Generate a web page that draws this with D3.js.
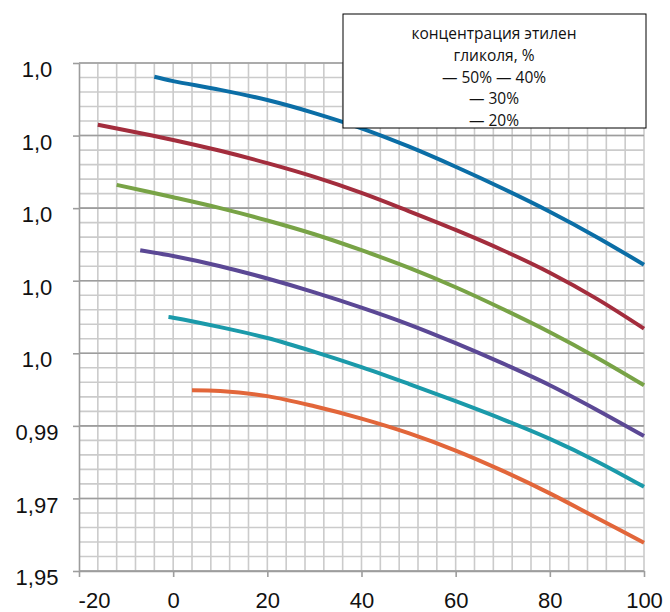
<!DOCTYPE html>
<meta charset="utf-8">
<script src="https://d3js.org/d3.v7.min.js"></script>
<style>
  body { margin: 0; background: #fff; }
  .tick text { font-family: "Liberation Sans", Arial, sans-serif; font-size: 22px; fill: #111; }
</style>
<body>
<div id="chart"></div>
<script>

// temperature, °C
var xTicks = [-20, 0, 20, 40, 60, 80, 100];
var yTicks = [0.95, 0.96, 0.97, 0.98, 0.99, 1.00, 1.01, 1.02];
var yLabels = ["1,95", "1,97", "0,99", "1,0", "1,0", "1,0", "1,0", "1,0"];

var legendLines = ["концентрация этилен", "гликоля, %", "— 50% — 40%", "— 30%", "— 20%"];

var xBlue   = [-4, 0, 10, 20, 30, 40, 50, 60, 70, 80, 90, 100];
var yBlue   = [1.0181, 1.0175, 1.0163, 1.0149, 1.0131, 1.0110, 1.0085, 1.0057, 1.0027, 0.9995, 0.9960, 0.9922];
var xRed    = [-16, 0, 10, 20, 30, 40, 50, 60, 70, 80, 90, 100];
var yRed    = [1.0115, 1.0094, 1.0079, 1.0062, 1.0043, 1.0021, 0.9996, 0.9970, 0.9942, 0.9911, 0.9875, 0.9834];
var xGreen  = [-12, 0, 10, 20, 30, 40, 50, 60, 70, 80, 90, 100];
var yGreen  = [1.0032, 1.0015, 1.0000, 0.9983, 0.9964, 0.9942, 0.9918, 0.9891, 0.9861, 0.9829, 0.9794, 0.9756];
var xPurple = [-7, 0, 10, 20, 30, 40, 50, 60, 70, 80, 90, 100];
var yPurple = [0.9942, 0.9934, 0.9920, 0.9903, 0.9884, 0.9863, 0.9840, 0.9814, 0.9786, 0.9756, 0.9722, 0.9686];
var xTeal   = [-1, 0, 10, 20, 30, 40, 50, 60, 70, 80, 90, 100];
var yTeal   = [0.9850, 0.9849, 0.9836, 0.9821, 0.9802, 0.9781, 0.9758, 0.9734, 0.9709, 0.9682, 0.9651, 0.9616];
var xOrange = [4, 10, 20, 30, 40, 50, 60, 70, 80, 90, 100];
var yOrange = [0.9749, 0.9748, 0.9741, 0.9727, 0.9710, 0.9690, 0.9666, 0.9638, 0.9607, 0.9573, 0.9539];

var series = [
  { xs: xBlue,   ys: yBlue,   color: "#0b6ea6" },
  { xs: xRed,    ys: yRed,    color: "#a32d3d" },
  { xs: xGreen,  ys: yGreen,  color: "#78a346" },
  { xs: xPurple, ys: yPurple, color: "#5b4895" },
  { xs: xTeal,   ys: yTeal,   color: "#1b9aaa" },
  { xs: xOrange, ys: yOrange, color: "#e2663a" }
];

var W = 670, H = 612;
var margin = { top: 63, right: 26, bottom: 41, left: 79 };
var width = W - margin.left - margin.right;
var height = H - margin.top - margin.bottom;

var svg = d3.select("#chart").append("svg")
    .attr("width", W)
    .attr("height", H)
  .append("g")
    .attr("transform", "translate(" + margin.left + "," + margin.top + ")");

var x = d3.scaleLinear().domain([-20, 100]).range([0, width]);
var y = d3.scaleLinear().domain([0.95, 1.02]).range([height, 0]);

// minor grid
var xMinor = d3.range(-20, 100.001, 4);
var yMinor = d3.range(0, 36).map(function(i) { return 0.95 + i * 0.002; });

svg.append("g").selectAll("line")
  .data(xMinor.slice(1))
  .enter().append("line")
    .attr("x1", function(d) { return x(d); })
    .attr("x2", function(d) { return x(d); })
    .attr("y1", 0).attr("y2", height)
    .attr("stroke", "#cbcbcb").attr("stroke-width", 1.6);

svg.append("g").selectAll("line")
  .data(yMinor)
  .enter().append("line")
    .attr("x1", 0).attr("x2", width)
    .attr("y1", function(d) { return y(d); })
    .attr("y2", function(d) { return y(d); })
    .attr("stroke", "#cbcbcb").attr("stroke-width", 1.6);

// major horizontal lines
svg.append("g").selectAll("line")
  .data(yTicks)
  .enter().append("line")
    .attr("x1", 0).attr("x2", width)
    .attr("y1", function(d) { return y(d); })
    .attr("y2", function(d) { return y(d); })
    .attr("stroke", "#9d9d9d").attr("stroke-width", 1.6);

// axes
var xAxis = svg.append("g")
  .attr("transform", "translate(0," + height + ")")
  .call(d3.axisBottom(x).tickValues(xTicks).tickSize(6).tickSizeOuter(0).tickPadding(15)
    .tickFormat(function(d) { return String(d); }));
var yAxis = svg.append("g")
  .call(d3.axisLeft(y).tickValues(yTicks).tickSize(6).tickSizeOuter(0)
    .tickFormat(function(d, i) { return yLabels[i]; }));

xAxis.select(".domain").attr("stroke", "#9d9d9d").attr("stroke-width", 1.6);
yAxis.select(".domain").attr("stroke", "#9d9d9d").attr("stroke-width", 1.6);
svg.selectAll(".tick line").attr("stroke", "#9d9d9d").attr("stroke-width", 1.6);
xAxis.selectAll(".tick text").filter(function(d) { return d === -20; }).attr("dx", 15);
yAxis.selectAll(".tick text")
  .attr("text-anchor", "middle")
  .attr("x", -42)
  .attr("dy", "0.62em");

// curves
var line = d3.line()
  .x(function(d) { return x(d[0]); })
  .y(function(d) { return y(d[1]); })
  .curve(d3.curveCatmullRom.alpha(0.5));

svg.append("g").selectAll("path")
  .data(series)
  .enter().append("path")
    .attr("d", function(s) { return line(d3.zip(s.xs, s.ys)); })
    .attr("fill", "none")
    .attr("stroke", function(s) { return s.color; })
    .attr("stroke-width", 4);

// legend box
var lg = d3.select("svg").append("g").attr("transform", "translate(343,14)");
lg.append("rect")
  .attr("width", 303).attr("height", 114)
  .attr("fill", "#fff").attr("stroke", "#000").attr("stroke-width", 1);
lg.selectAll("text")
  .data(legendLines)
  .enter().append("text")
    .attr("x", 151)
    .attr("y", function(d, i) { return 25 + i * 21.8; })
    .attr("text-anchor", "middle")
    .style("font-family", "'Open Sans', sans-serif")
    .style("font-size", "15.5px")
    .attr("fill", "#111")
    .text(function(d) { return d; });

</script>
</body>
